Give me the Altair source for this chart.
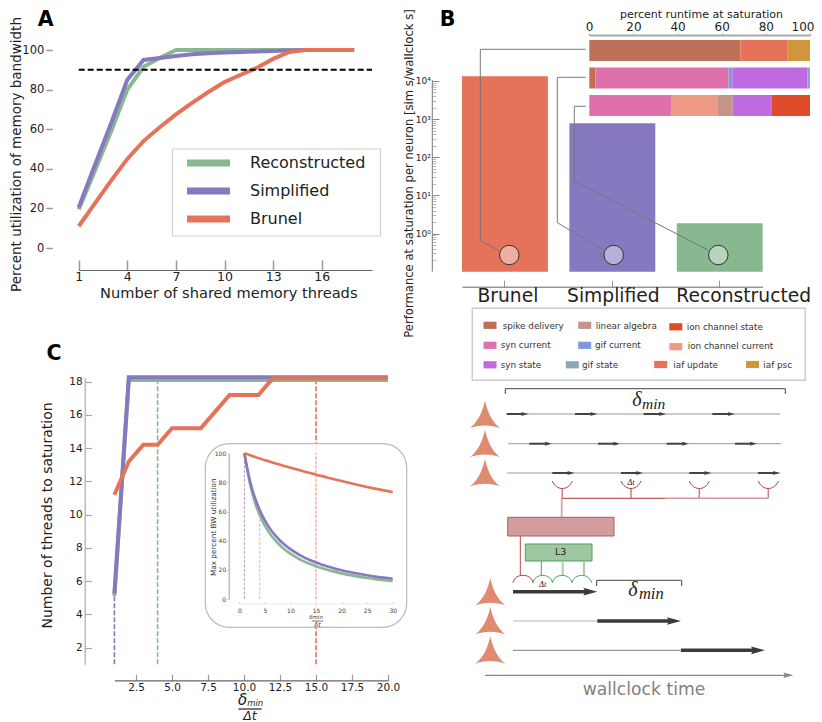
import altair as alt
import pandas as pd

W, H = 806, 714
FONT = "DejaVu Sans"
SERIF = "Liberation Serif"

# ---------- series ----------
MODELS = ["Reconstructed", "Simplified", "Brunel"]
COLORS = ["#87B88F", "#8779C0", "#E5735A"]

A_X = list(range(1, 19))
A_REC = [19.5, 39, 59, 80, 91.5, 96, 100, 100, 100, 100, 100, 100, 100, 100, 100, 100, 100, 100]
A_SIM = [20.5, 42, 63, 85, 95, 96, 97, 97.8, 98.3, 98.7, 99, 99.2, 99.5, 99.8, 100, 100, 100, 100]
A_BRU = [11, 22.5, 34, 45, 54, 61, 67.5, 73.3, 78.8, 83.8, 87.5, 91, 95.5, 99, 100, 100, 100, 100]

C_X = list(range(1, 21))
C_REC = [5.1] + [18.1] * 19
C_SIM = [5.25] + [18.26] * 19
C_BRU = [11.2, 13.2, 14.2, 14.2, 15.2, 15.2, 15.2, 16.2, 17.2, 17.2, 17.2, 18.2, 18.2, 18.2, 18.2, 18.2, 18.2, 18.2, 18.2, 18.2]
C_MARK = [4, 1, 15]
C_MARK_TOP = [18.1, 5.25, 18.2]

I_X = [1, 2, 3, 4, 5, 6, 7, 8, 9, 10, 12, 14, 15, 16, 18, 20, 22, 25, 27, 30]
I_REC = [100, 80.3, 67, 57.5, 50.4, 44.8, 40.4, 36.7, 33.7, 31.1, 26.9, 23.8, 22.5, 21.3, 19.3, 17.6, 16.2, 14.4, 13.4, 12.3]
I_SIM = [100, 82.4, 70, 61, 53.9, 48.3, 43.8, 40, 36.9, 34.2, 29.8, 26.4, 25, 23.7, 21.6, 19.7, 18.2, 16.3, 15.2, 13.9]
I_BRU = [100, 98.8, 97.6, 96.4, 95.3, 94.2, 93.1, 92.1, 91.1, 90.1, 88.2, 86.3, 85.3, 84.5, 82.7, 81, 79.3, 76.9, 75.4, 73.4]
I_MARK_TOP = [57, 100, 100]

PERF_CATS = ["Brunel", "Simplified", "Reconstructed"]
PERF_VALS = [13200, 771, 1.86]
PERF_COLS = ["#E5735A", "#8779C0", "#87B88F"]
PERF_HALO = ["#F0AEA0", "#B8B0DA", "#B9D4BE"]
PERF_DX = [3, 1, 24]

PARTS = ["spike delivery", "linear algebra", "ion channel state", "syn current", "gif current",
         "ion channel current", "syn state", "gif state", "iaf update", "iaf psc"]
PART_COLS = ["#BE7058", "#C39586", "#E04C2A", "#E070AC", "#7F99DD",
             "#EE9A85", "#C06AE2", "#89A9BA", "#E5735A", "#CF963B"]
RUNTIME = {
    "Brunel": [("spike delivery", 68.4), ("iaf update", 21.5), ("iaf psc", 10.1)],
    "Simplified": [("spike delivery", 2.8), ("syn current", 60.3), ("gif current", 1.7),
                   ("syn state", 34), ("gif state", 1.2)],
    "Reconstructed": [("syn current", 37), ("ion channel current", 21), ("linear algebra", 7),
                      ("syn state", 17.5), ("ion channel state", 17.5)],
}

# ---------- schematic, in the reference's picture units ----------
LEG_SWATCH = [(490, 325.3, 0), (584.7, 325.3, 1), (675.8, 326.8, 2), (490, 345.3, 3), (584.7, 345.3, 4),
              (675.8, 346.7, 5), (490, 364.8, 6), (572.3, 364.8, 7), (660.7, 364.5, 8), (752.5, 364.5, 9)]
LEG_TEXT = [(502.7, 325.5), (595.7, 325.5), (686.7, 327.3), (500.7, 345.3), (595, 345.3),
            (687.7, 346.3), (500.7, 365), (582, 365), (673.3, 365), (763.3, 365)]
ROW_Y = [414, 443.7, 473]
ROW_ENDS = [(506.7, 780), (508, 781), (507.3, 780)]
ROW_SPANS = [[(506.7, 528.3), (575, 597.3), (643.7, 666), (712.3, 734.7)],
             [(529.3, 551.7), (598, 620), (666.7, 688.7), (735, 756.7)],
             [(552.3, 574.3), (621, 643), (689.3, 711.3), (758, 780)]]
NEURONS = [(485, 414.6), (485, 443.8), (485, 473), (490.3, 592), (490.3, 621), (490.3, 650.3)]
CUPS = [(562.3, 489), (631, 489), (699.3, 489), (768.3, 489)]
CAPS_RED = [(523, 579.8)]
CAPS_GREEN = [(542.7, 579.8), (562.2, 579.8), (581.8, 579.8)]
LOW_Y = [591.7, 621, 650.3]
LOW_SPANS = [(513, 597.3), (597.3, 681), (681, 765)]
CONNECT = [(585.7, 49.3, 480.3, 49.3), (480.3, 49.3, 480.3, 241), (480.3, 241, 499, 250.5),
           (585.7, 77.3, 557.3, 77.3), (557.3, 77.3, 557.3, 222.7), (557.3, 222.7, 603, 249.5),
           (585.7, 106.3, 574.3, 106.3), (574.3, 106.3, 574.3, 181), (574.3, 181, 708, 250)]
HALOS = [(509.3, 255), (613.7, 255), (718.3, 255)]

NEURON = "M0,-.95 C.16,-.2 .42,.42 1,.9 C.4,.66 -.4,.66 -1,.9 C-.42,.42 -.16,-.2 0,-.95Z"
CUP = "M-1,-.8 C-.6,.2 .6,.2 1,-.8"
CAP = "M-1,.29 C-.8,-.7 .8,-.7 1,.29"
HEAD = "M-1,-.55 L1,0 L-1,.55 L-.7,0 Z"
STROKE_KEY = "M-3,0H3"


def scale(domain, a, b, **kw):
    return alt.Scale(domain=domain, range=[a - 8, b - 8], zero=False, nice=False, **kw)


SKX = scale([8, 822], 8, 822)
SKY = scale([8, 722], 8, 722)
layers = []


def seg(rows, color, width=1.0, dash=None):
    df = pd.DataFrame(rows, columns=["x", "y", "x2", "y2"])
    kw = {"strokeDash": dash} if dash else {}
    layers.append(alt.Chart(df).mark_rule(color=color, strokeWidth=width, opacity=1, **kw).encode(
        x=alt.X("x:Q", scale=SKX, axis=None), x2="x2:Q",
        y=alt.Y("y:Q", scale=SKY, axis=None), y2="y2:Q"))


def box(x, y, x2, y2, fill, stroke=None, sw=1.0, **kw):
    df = pd.DataFrame([dict(x=x, y=y, x2=x2, y2=y2)])
    m = dict(fill=fill, strokeWidth=sw, **kw)
    if stroke:
        m["stroke"] = stroke
    layers.append(alt.Chart(df).mark_rect(**m).encode(
        x=alt.X("x:Q", scale=SKX, axis=None), x2="x2:Q",
        y=alt.Y("y:Q", scale=SKY, axis=None), y2="y2:Q"))


def sym(rows, shape, size, color=None, stroke=None, sw=1.0):
    df = pd.DataFrame(rows, columns=["x", "y"])
    if stroke:
        mark = dict(filled=False, stroke=stroke, strokeWidth=sw)
    else:
        mark = dict(filled=True, fill=color, strokeWidth=0)
    layers.append(alt.Chart(df).mark_point(shape=shape, size=size, opacity=1, **mark).encode(
        x=alt.X("x:Q", scale=SKX, axis=None), y=alt.Y("y:Q", scale=SKY, axis=None)))


def txt(rows, size, color="#222222", font=FONT, **kw):
    df = pd.DataFrame(rows, columns=["x", "y", "t"])
    layers.append(alt.Chart(df).mark_text(fontSize=size, color=color, font=font, baseline="middle", **kw).encode(
        x=alt.X("x:Q", scale=SKX, axis=None), y=alt.Y("y:Q", scale=SKY, axis=None), text="t:N"))


def long_table(xs, columns):
    rows = []
    for name, ys in columns:
        rows += [dict(model=name, x=x, y=y) for x, y in zip(xs, ys)]
    return pd.DataFrame(rows)


COLOR_SCALE = alt.Scale(domain=MODELS, range=COLORS)

# ---------- panel letters ----------
txt([(45.7, 19.5, "A"), (447.5, 19.5, "B"), (54, 353.5, "C")], 20.5, color="#000000", fontWeight="bold")

# ---------- panel A ----------
A_XS = scale([1, 19.1], 78.7, 372)
A_YS = scale([0, 100], 248, 50)
box(172.5, 149, 380.5, 236, "#FFFFFF", "#CCCCCC", 1)
a_df = long_table(A_X, [("Reconstructed", A_REC), ("Simplified", A_SIM), ("Brunel", A_BRU)])
layers.append(alt.Chart(a_df).mark_line(strokeWidth=4).encode(
    x=alt.X("x:Q", scale=A_XS, axis=alt.Axis(
        orient="top", offset=-(270 - 8), values=[1, 4, 7, 10, 13, 16], format="d", grid=False,
        tickSize=10, tickWidth=1.5, tickColor="#999999", domainColor="#666666", domainWidth=1.2,
        labelPadding=-23, labelFontSize=12.5, labelColor="#222222", labelFont=FONT, labelFlush=False,
        title="Number of shared memory threads", titleX=228.3 - 8, titleY=23, titleAlign="center",
        titleBaseline="middle", titleAnchor="middle", titleFontSize=14.6, titleFontWeight="normal",
        titleColor="#222222", titleFont=FONT)),
    y=alt.Y("y:Q", scale=A_YS, axis=alt.Axis(
        orient="left", offset=-(52.3 - 8), values=[0, 20, 40, 60, 80, 100], grid=False, domain=False,
        tickSize=6.5, tickWidth=1.5, tickColor="#999999", labelPadding=2, labelFontSize=11.5,
        labelColor="#222222", labelFont=FONT,
        title="Percent utilization of memory bandwidth", titleX=16 - 52.3, titleY=154 - 8,
        titleAngle=270, titleAlign="center", titleBaseline="middle", titleFontSize=13.5,
        titleFontWeight="normal", titleColor="#222222", titleFont=FONT)),
    color=alt.Color("model:N", scale=COLOR_SCALE, legend=alt.Legend(
        orient="none", legendX=179.5 - 8, legendY=152 - 8, title=None, symbolType=STROKE_KEY,
        symbolSize=205, symbolStrokeWidth=7, symbolOpacity=1, symbolOffset=18, labelOffset=30.5,
        labelFontSize=16, labelColor="#222222", labelFont=FONT, padding=0, rowPadding=0)),
    detail="model:N"))
dash_df = pd.DataFrame([dict(x=1, x2=19.1, y=90)])
layers.append(alt.Chart(dash_df).mark_rule(color="#000000", strokeWidth=2, strokeDash=[6, 3]).encode(
    x=alt.X("x:Q", scale=A_XS, axis=None), x2="x2:Q", y=alt.Y("y:Q", scale=A_YS, axis=None)))

# ---------- panel B: performance bars ----------
B_XS = alt.Scale(type="band", domain=PERF_CATS, range=[462 - 8, 762.7 - 8], paddingInner=0.2, paddingOuter=0)
B_YS = alt.Scale(type="log", domain=[0.1, 13200], range=[271.7 - 8, 76.3 - 8], nice=False)
perf_df = pd.DataFrame(dict(cat=PERF_CATS, val=PERF_VALS, base=[0.1] * 3))
layers.append(alt.Chart(perf_df).mark_bar(opacity=1).encode(
    x=alt.X("cat:N", scale=B_XS, sort=PERF_CATS, axis=alt.Axis(
        orient="top", offset=-(286.7 - 8), labels=False, title=None, grid=False, tickSize=6.6,
        tickWidth=1, tickColor="#999999", domainColor="#666666", domainWidth=1)),
    y=alt.Y("val:Q", scale=B_YS, stack=None, axis=alt.Axis(
        orient="right", offset=(432.3 - 8) - W, values=[1, 10, 100, 1000, 10000], grid=False, domain=False,
        tickSize=6.7, tickWidth=1, tickColor="#888888", labelAlign="right", labelPadding=-8.7,
        labelFontSize=9, labelColor="#222222", labelFont=FONT,
        labelExpr="'10' + ['⁰','¹','²','³','⁴'][round(log(datum.value)/LN10)]",
        title="Performance at saturation per neuron [sim s/wallclock s]", titleX=409 - 432.3,
        titleY=173 - 8, titleAngle=270, titleAlign="center", titleBaseline="middle",
        titleFontSize=11.6, titleFontWeight="normal", titleColor="#222222", titleFont=FONT)),
    y2="base:Q",
    color=alt.Color("cat:N", scale=alt.Scale(domain=PERF_CATS, range=PERF_COLS), legend=None)))
MINOR = [m * d for d in (0.1, 1, 10, 100, 1000) for m in range(2, 10)]
layers.append(alt.Chart(perf_df).mark_bar(opacity=0).encode(
    x=alt.X("cat:N", scale=B_XS, sort=PERF_CATS, axis=None),
    y=alt.Y("val:Q", scale=B_YS, stack=None, axis=alt.Axis(
        orient="right", offset=(432.3 - 8) - W, values=MINOR, labels=False, title=None, grid=False,
        domain=False, tickSize=3.5, tickWidth=0.8, tickColor="#AAAAAA")),
    y2="base:Q"))
seg([(432.3, 80, 432.3, 271.7)], "#777777", 1)
for cat, dx in zip(PERF_CATS, PERF_DX):
    layers.append(alt.Chart(pd.DataFrame(dict(cat=[cat], y=[296]))).mark_text(
        fontSize=18.7, color="#222222", font=FONT, baseline="middle", dx=dx).encode(
        x=alt.X("cat:N", scale=B_XS, sort=PERF_CATS, axis=None),
        y=alt.Y("y:Q", scale=SKY, axis=None), text="cat:N"))

# ---------- panel B: runtime stacks ----------
rt_rows = []
for row, parts in RUNTIME.items():
    start = 0
    for part, share in parts:
        rt_rows.append(dict(row=row, part=part, start=start, end=start + share))
        start += share
rt_df = pd.DataFrame(rt_rows)
layers.append(alt.Chart(rt_df).mark_bar(opacity=1).encode(
    x=alt.X("start:Q", scale=scale([0, 100], 589.3, 810), axis=alt.Axis(
        orient="top", offset=-(35 - 8), values=[0, 20, 40, 60, 80, 100], grid=False, tickSize=2,
        tickColor="#AAAAAA", domainColor="#AAAAAA", domainWidth=2, labelPadding=0, labelFontSize=12,
        labelColor="#222222", labelFont=FONT, labelFlush=True, labelFlushOffset=4,
        title="percent runtime at saturation", titleX=701 - 8, titleY=14.5 - 35, titleAlign="center",
        titleBaseline="middle", titleFontSize=11, titleFontWeight="normal", titleColor="#222222",
        titleFont=FONT)),
    x2="end:Q",
    y=alt.Y("row:N", sort=PERF_CATS, axis=None, scale=alt.Scale(
        type="band", domain=PERF_CATS, range=[40 - 8, 116 - 8], paddingInner=0.236, paddingOuter=0)),
    color=alt.Color("part:N", scale=alt.Scale(domain=PARTS, range=PART_COLS), legend=None)))
seg(CONNECT, "#777777", 1)
for xy, halo in zip(HALOS, PERF_HALO):
    df = pd.DataFrame([xy], columns=["x", "y"])
    layers.append(alt.Chart(df).mark_circle(size=380, fill=halo, stroke="#333333", strokeWidth=1, opacity=1).encode(
        x=alt.X("x:Q", scale=SKX, axis=None), y=alt.Y("y:Q", scale=SKY, axis=None)))

# ---------- panel B: parts key ----------
box(472.3, 308.3, 805.3, 380.3, "#FFFFFF", "#CCCCCC", 1.5)
for (sx_, sy_, idx), (tx, ty) in zip(LEG_SWATCH, LEG_TEXT):
    box(sx_ - 6.5, sy_ - 3.6, sx_ + 6.5, sy_ + 3.6, PART_COLS[idx])
    txt([(tx, ty, PARTS[idx])], 8.8, color="#333333", align="left")

# ---------- panel C ----------
C_XS = scale([1, 20], 114.4, 388)
C_YS = scale([1, 18.24], 664.3, 377.7)
mark_df = pd.DataFrame(dict(model=MODELS, x=C_MARK, y=[1, 1, 1], y2=C_MARK_TOP))
layers.append(alt.Chart(mark_df).mark_rule(strokeWidth=1.6, strokeDash=[5, 2]).encode(
    x=alt.X("x:Q", scale=C_XS, axis=None), y=alt.Y("y:Q", scale=C_YS, axis=None), y2="y2:Q",
    color=alt.Color("model:N", scale=COLOR_SCALE, legend=None)))
c_df = long_table(C_X, [("Reconstructed", C_REC), ("Simplified", C_SIM), ("Brunel", C_BRU)])
layers.append(alt.Chart(c_df).mark_line(strokeWidth=4).encode(
    x=alt.X("x:Q", scale=C_XS, axis=alt.Axis(
        orient="top", offset=-(680.3 - 8), values=[2.5, 5, 7.5, 10, 12.5, 15, 17.5, 20], format=".1f",
        grid=False, tickSize=6, tickWidth=1.2, tickColor="#999999", domainColor="#666666", domainWidth=1.2,
        labelPadding=-18, labelFontSize=10.5, labelColor="#222222", labelFont=FONT, labelFlush=False, title=None)),
    y=alt.Y("y:Q", scale=C_YS, axis=alt.Axis(
        orient="right", offset=(84.7 - 8) - W, values=list(range(2, 19, 2)), grid=False, tickSize=7,
        tickWidth=1.2, tickColor="#AAAAAA", domainColor="#AAAAAA", domainWidth=1.2, labelAlign="right",
        labelPadding=-9.5, labelFontSize=10.5, labelColor="#222222", labelFont=FONT,
        title="Number of threads to saturation", titleX=48 - 84.7, titleY=515 - 8, titleAngle=270,
        titleAlign="center", titleBaseline="middle", titleFontSize=14, titleFontWeight="normal",
        titleColor="#222222", titleFont=FONT)),
    color=alt.Color("model:N", scale=COLOR_SCALE, legend=None), detail="model:N"))
txt([(242.6, 700, "δ")], 15, font=FONT, fontStyle="italic")
txt([(255.2, 703, "min")], 8.5, font=FONT, fontStyle="italic")
seg([(238.3, 709, 261.7, 709)], "#222222", 1.2)
txt([(250, 715.5, "Δt")], 12.5, font=FONT, fontStyle="italic")

# ---------- panel C: inset ----------
box(205.3, 443.7, 406.7, 627.3, "#FFFFFF", "#BBBBBB", 1.2, cornerRadius=24, fillOpacity=0.88)
I_XS = scale([0, 30], 239.3, 392.7)
I_YS = scale([0, 100], 599, 453.3)
imark_df = pd.DataFrame(dict(model=MODELS, x=C_MARK, y=[0, 0, 0], y2=I_MARK_TOP))
layers.append(alt.Chart(imark_df).mark_rule(strokeWidth=1, strokeDash=[3, 1.5], opacity=0.7).encode(
    x=alt.X("x:Q", scale=I_XS, axis=None), y=alt.Y("y:Q", scale=I_YS, axis=None), y2="y2:Q",
    color=alt.Color("model:N", scale=COLOR_SCALE, legend=None)))
i_df = long_table(I_X, [("Reconstructed", I_REC), ("Simplified", I_SIM), ("Brunel", I_BRU)])
layers.append(alt.Chart(i_df).mark_line(strokeWidth=2.6, interpolate="monotone").encode(
    x=alt.X("x:Q", scale=I_XS, axis=alt.Axis(
        orient="top", offset=-(603.5 - 8), values=[0, 5, 10, 15, 20, 25, 30], format="d", zindex=1, grid=False,
        tickSize=2, tickWidth=0.6, tickColor="#BBBBBB", domainColor="#DDDDDD", domainWidth=0.6,
        labelPadding=-12, labelFontSize=6, labelColor="#444444", labelFont=FONT, labelFlush=False, title=None)),
    y=alt.Y("y:Q", scale=I_YS, axis=alt.Axis(
        orient="left", offset=-(228.7 - 8), values=[0, 20, 40, 60, 80, 100], zindex=1, grid=False, tickSize=2,
        tickWidth=0.6, tickColor="#BBBBBB", domainColor="#888888", domainWidth=0.8, labelPadding=1,
        labelFontSize=6, labelColor="#444444", labelFont=FONT,
        title="Max percent BW utilization", titleX=213.3 - 228.7, titleY=526.7 - 8, titleAngle=270,
        titleAlign="center", titleBaseline="middle", titleFontSize=7.3, titleFontWeight="normal",
        titleColor="#333333", titleFont=FONT)),
    color=alt.Color("model:N", scale=COLOR_SCALE, legend=None), detail="model:N"))
txt([(316, 617.3, "δmin")], 5.5, font=FONT, fontStyle="italic", color="#444444")
seg([(312, 621, 323, 621)], "#444444", 0.7)
txt([(317.5, 625, "δt")], 6.5, font=FONT, fontStyle="italic", color="#444444")

# ---------- schematic ----------
DARK = "#444444"
seg([(505.3, 394, 505.3, 388.7), (505.3, 388.7, 785.3, 388.7), (785.3, 388.7, 785.3, 394)], DARK, 1)
txt([(637, 400.2, "δ")], 20, font=SERIF, fontStyle="italic", color="#222222")
txt([(653.7, 404, "min")], 15.5, font=SERIF, fontStyle="italic", color="#222222")
seg([(a, y, b, y) for (a, b), y in zip(ROW_ENDS, ROW_Y)], "#999999", 1)
seg([(a, y, b - 3, y) for spans, y in zip(ROW_SPANS, ROW_Y) for a, b in spans], DARK, 2)
sym([(b - 3.5, y) for spans, y in zip(ROW_SPANS, ROW_Y) for a, b in spans], HEAD, 49, color=DARK)
sym(NEURONS, NEURON, 900, color="#E08A70")
sym(CUPS, CUP, 400, stroke="#B03A3A", sw=1)
seg([(x, 489, x, 498.3) for x, _ in CUPS], "#CC8084", 1.5)
seg([(561.7, 498.3, 665, 498.3)], "#C25B5F", 1.2)
seg([(665, 498.3, 768.3, 498.3)], "#D59A9C", 1.5)
seg([(561.7, 498.3, 561.7, 517.3)], "#D8A5A5", 1.8)
box(507.7, 517.3, 614, 536, "#D29D9D", "#B5585A", 1)
seg([(520.3, 536, 520.3, 575.3)], "#B5484B", 1)
box(525.3, 544, 592, 561, "#A0C8A0", "#4E9E5A", 1)
txt([(560.7, 552.3, "L3")], 9.5)
seg([(541.3, 561, 541.3, 575.3)], "#4E9E5A", 1)
seg([(562.7, 561, 562.7, 575.3), (584, 561, 584, 575.3)], "#A5CFA5", 2)
sym(CAPS_RED, CAP, 400, stroke="#B03A3A", sw=1)
sym(CAPS_GREEN, CAP, 380, stroke="#4E9E5A", sw=1)
txt([(631, 482.3, "Δt")], 8.5, font=SERIF, fontStyle="italic")
txt([(542.7, 584, "Δt")], 8.5, font=SERIF, fontStyle="italic")
seg([(596.7, 586, 596.7, 580.3), (596.7, 580.3, 681.7, 580.3), (681.7, 580.3, 681.7, 586)], DARK, 1)
txt([(633, 589.5, "δ")], 20, font=SERIF, fontStyle="italic", color="#222222")
txt([(651.3, 594, "min")], 16.5, font=SERIF, fontStyle="italic", color="#222222")
seg([(513, LOW_Y[1], 597.3, LOW_Y[1])], "#CCCCCC", 1.5)
seg([(513, LOW_Y[2], 681, LOW_Y[2])], "#999999", 1.2)
BIG = "#3A3A3A"
seg([(a, y, b - 8, y) for (a, b), y in zip(LOW_SPANS, LOW_Y)], BIG, 3.4)
sym([(b - 7, y) for (a, b), y in zip(LOW_SPANS, LOW_Y)], HEAD, 196, color=BIG)
seg([(485, 675.3, 786, 675.3)], "#888888", 1.2)
sym([(788.3, 675.3)], HEAD, 100, color="#888888")
txt([(644, 690, "wallclock time")], 17.2, color="#808080")

chart = alt.layer(*layers).resolve_scale(
    x="independent", y="independent", color="independent"
).resolve_axis(x="independent", y="independent").properties(
    width=W, height=H, padding=0, autosize=alt.AutoSizeParams(type="none"),
).configure_view(stroke=None)

chart.save("out.html", embed_options={"renderer": "svg", "actions": False})
